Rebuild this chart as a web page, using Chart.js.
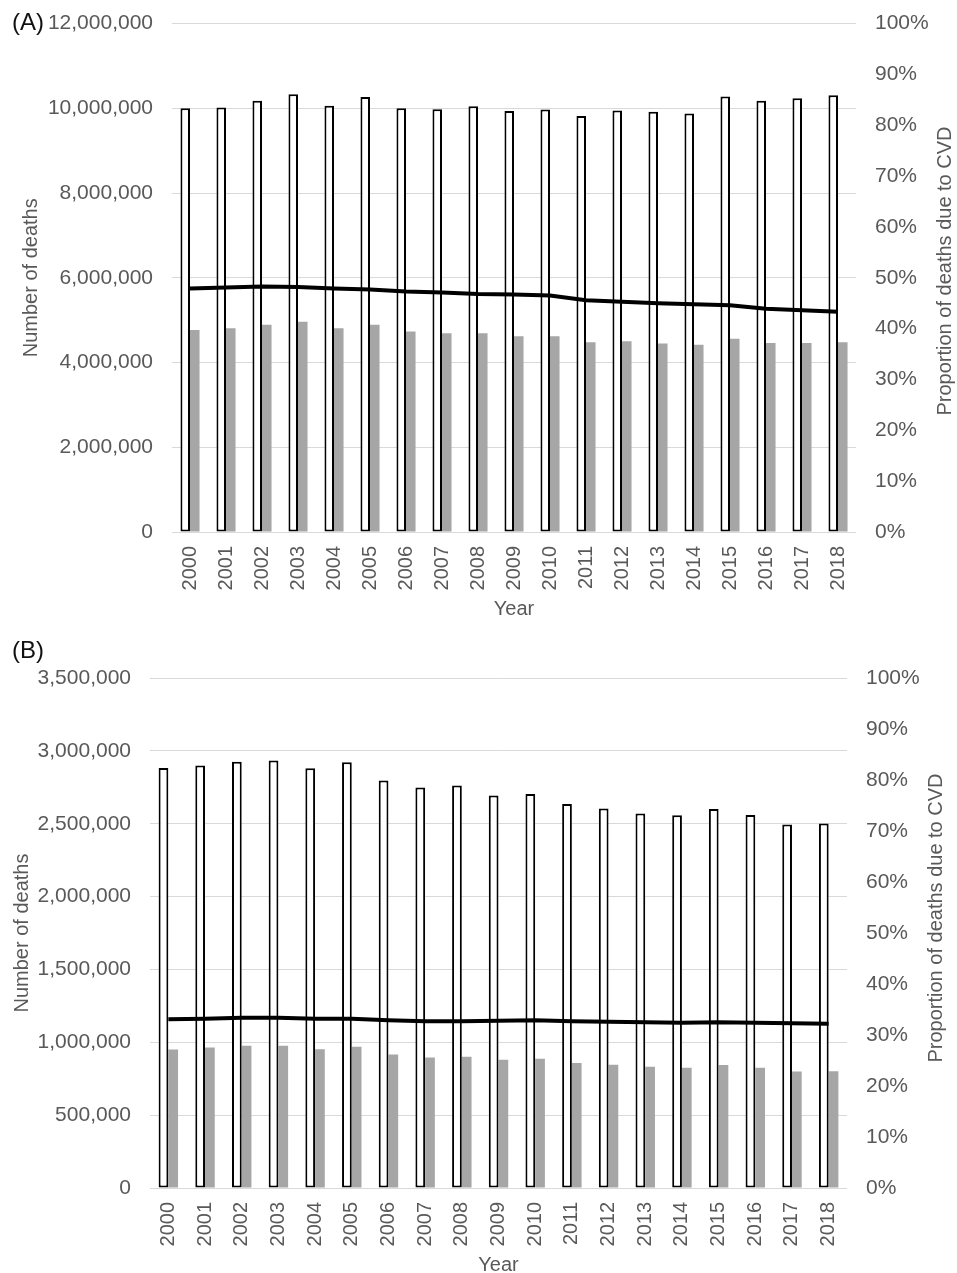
<!DOCTYPE html>
<html>
<head>
<meta charset="utf-8">
<script src="https://cdn.jsdelivr.net/npm/chart.js@4/dist/chart.umd.min.js"></script>
<style>
  html, body { margin: 0; padding: 0; background: #ffffff; }
  body { width: 957px; height: 1273px; overflow: hidden; position: relative; }
  .panel { position: absolute; left: 0; }
  #panelA { top: -8px; }
  #panelB { top: 637px; }
</style>
</head>
<body>
<div class="panel" id="panelA"><canvas id="chartA" width="957" height="644"></canvas></div>
<div class="panel" id="panelB"><canvas id="chartB" width="957" height="650"></canvas></div>
<script>
// Years on the category axis
const years = ['2000','2001','2002','2003','2004','2005','2006','2007','2008','2009',
               '2010','2011','2012','2013','2014','2015','2016','2017','2018'];

// Panel A: all deaths, deaths due to CVD, and CVD share (%)
const totalDeathsA = [10000000,10020000,10180000,10330000,10060000,10270000,10000000,9980000,10050000,9940000,
                      9970000,9820000,9950000,9920000,9880000,10280000,10180000,10240000,10310000];
const cvdDeathsA   = [4770000,4810000,4890000,4960000,4810000,4890000,4730000,4690000,4690000,4620000,
                      4620000,4480000,4500000,4450000,4420000,4560000,4460000,4460000,4480000];
const cvdShareA    = [47.9,48.1,48.3,48.2,47.9,47.7,47.3,47.1,46.8,46.7,
                      46.5,45.6,45.3,45.0,44.8,44.6,43.9,43.6,43.3];
const countTicksA  = [0,2000000,4000000,6000000,8000000,10000000,12000000];

// Panel B
const totalDeathsB = [2883000,2899000,2926000,2933000,2880000,2921000,2796000,2748000,2762000,2693000,
                      2704000,2636000,2604000,2570000,2558000,2601000,2560000,2494000,2501000];
const cvdDeathsB   = [951000,965000,976000,976000,953000,969000,917000,896000,901000,880000,
                      887000,857000,846000,832000,825000,844000,825000,800000,802000];
const cvdShareB    = [33.1,33.2,33.4,33.4,33.2,33.2,32.9,32.7,32.7,32.8,
                      32.9,32.7,32.6,32.5,32.4,32.5,32.4,32.3,32.2];
const countTicksB  = [0,500000,1000000,1500000,2000000,2500000,3000000,3500000];

// Right-hand axis ticks (percent)
const shareTicks = [0,10,20,30,40,50,60,70,80,90,100];

const FONT = '"Liberation Sans", Arial, sans-serif';
const TEXT = '#595959';
const GRID = '#d9d9d9';

// Draws the panel letter and the right-axis title (reading bottom to top)
const extrasPlugin = {
  id: 'extras',
  afterDraw(chart, args, opts) {
    const ctx = chart.ctx;
    ctx.save();
    ctx.fillStyle = '#111111';
    ctx.font = '24px ' + FONT;
    ctx.textAlign = 'left';
    ctx.textBaseline = 'middle';
    ctx.fillText(opts.panel, 12, opts.panelY);

    ctx.fillStyle = TEXT;
    ctx.font = '20px ' + FONT;
    ctx.textAlign = 'center';
    ctx.translate(opts.rightTitleX, opts.rightTitleY);
    ctx.rotate(-Math.PI / 2);
    ctx.fillText('Proportion of deaths due to CVD', 0, 0);
    ctx.restore();
  }
};

function makeChart(canvasId, cfg) {
  return new Chart(document.getElementById(canvasId), {
    type: 'bar',
    data: {
      labels: years,
      datasets: [
        {
          type: 'line',
          label: 'Proportion of deaths due to CVD',
          data: cfg.share,
          yAxisID: 'y1',
          borderColor: '#000000',
          borderWidth: 4,
          pointRadius: 0,
          tension: 0,
          fill: false,
          order: 0
        },
        {
          label: 'Total deaths',
          data: cfg.total,
          yAxisID: 'y',
          backgroundColor: '#ffffff',
          borderColor: '#000000',
          borderWidth: 2,
          borderSkipped: false,
          categoryPercentage: 0.53,
          barPercentage: 1.0,
          order: 1
        },
        {
          label: 'CVD deaths',
          data: cfg.cvd,
          yAxisID: 'y',
          backgroundColor: '#a6a6a6',
          borderWidth: 0,
          categoryPercentage: 0.53,
          barPercentage: 1.0,
          order: 1
        }
      ]
    },
    options: {
      responsive: false,
      animation: false,
      devicePixelRatio: 1,
      layout: { padding: { top: cfg.padTop, left: 0, right: 0, bottom: 0 } },
      plugins: {
        legend: { display: false },
        tooltip: { enabled: false },
        extras: { panel: cfg.panel, panelY: cfg.panelY, rightTitleX: cfg.rightTitleX, rightTitleY: cfg.rightTitleY }
      },
      scales: {
        x: {
          offset: true,
          grid: { display: false, drawTicks: false },
          border: { display: false },
          ticks: {
            autoSkip: false, minRotation: 90, maxRotation: 90, padding: 14,
            color: TEXT, font: { family: FONT, size: 20 }
          },
          title: {
            display: true, text: 'Year', color: TEXT,
            font: { family: FONT, size: 20 }, padding: { top: 0, bottom: cfg.yearPad }
          },
          afterFit(scale) { scale.height = cfg.xHeight; }
        },
        y: {
          position: 'left',
          min: 0,
          max: cfg.countTicks[cfg.countTicks.length - 1],
          afterBuildTicks(scale) { scale.ticks = cfg.countTicks.map(v => ({ value: v })); },
          grid: { color: GRID, lineWidth: 1, drawTicks: false },
          border: { display: false },
          ticks: {
            padding: 19, color: TEXT, font: { family: FONT, size: 21 },
            callback: v => Number(v).toLocaleString('en-US')
          },
          title: {
            display: true, text: 'Number of deaths', color: TEXT,
            font: { family: FONT, size: 20 }, padding: { top: cfg.leftTitlePad, bottom: 0 }
          },
          afterFit(scale) { scale.width = cfg.leftWidth; }
        },
        y1: {
          position: 'right',
          min: 0,
          max: 100,
          afterBuildTicks(scale) { scale.ticks = shareTicks.map(v => ({ value: v })); },
          grid: { display: false, drawTicks: false },
          border: { display: false },
          ticks: {
            padding: 19, color: TEXT, font: { family: FONT, size: 21 },
            callback: v => v + '%'
          },
          afterFit(scale) { scale.width = cfg.rightWidth; }
        }
      }
    },
    plugins: [extrasPlugin]
  });
}

makeChart('chartA', {
  panel: '(A)', panelY: 31,
  total: totalDeathsA, cvd: cvdDeathsA, share: cvdShareA, countTicks: countTicksA,
  padTop: 30, leftWidth: 172, rightWidth: 101, xHeight: 104,
  yearPad: 15, leftTitlePad: 19,
  rightTitleX: 945, rightTitleY: 279
});

makeChart('chartB', {
  panel: '(B)', panelY: 14,
  total: totalDeathsB, cvd: cvdDeathsB, share: cvdShareB, countTicks: countTicksB,
  padTop: 41, leftWidth: 150, rightWidth: 110, xHeight: 99,
  yearPad: 10, leftTitlePad: 10,
  rightTitleX: 936, rightTitleY: 281
});
</script>
</body>
</html>
